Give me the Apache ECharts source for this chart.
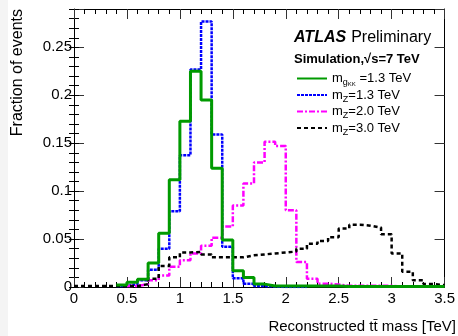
<!DOCTYPE html>
<html>
<head>
<meta charset="utf-8">
<script src="https://cdn.jsdelivr.net/npm/echarts@6/dist/echarts.min.js"></script>
<style>
  html, body { margin: 0; padding: 0; background: #fff; }
  #chart { width: 458px; height: 336px; }
</style>
</head>
<body>
<div id="chart"></div>
<script>
// Bin edges of the reconstructed ttbar mass histograms [TeV], 0.1 TeV bins
const binEdges = [0.0, 0.1, 0.2, 0.3, 0.4, 0.5, 0.6, 0.7, 0.8, 0.9,
                  1.0, 1.1, 1.2, 1.3, 1.4, 1.5, 1.6, 1.7, 1.8, 1.9,
                  2.0, 2.1, 2.2, 2.3, 2.4, 2.5, 2.6, 2.7, 2.8, 2.9,
                  3.0, 3.1, 3.2, 3.3, 3.4, 3.5];

// Fraction of events per bin (null = bin not drawn)
const gKK13 = [null, null, null, null, 0.002, 0.005, 0.008, 0.025, 0.056, 0.112,
               0.173, 0.225, 0.195, 0.124, 0.049, 0.017, 0.010, 0.003, 0.001, 0.001,
               0.001, 0.001, 0.001, 0.001, 0.001, 0.0005, 0.0005, 0.0005, 0.0005, 0.0005,
               0.0005, 0.0005, 0.0005, 0.0005, 0.0005];
const zPrime13 = [null, null, null, null, 0.001, 0.003, 0.007, 0.018, 0.040, 0.079,
                  0.1375, 0.227, 0.277, 0.159, 0.042, 0.009, 0.0035, 0.001, 0.0005, 0,
                  0, 0, null, null, null, null, null, null, null, null,
                  null, null, null, null, null];
const zPrime20 = [null, null, null, null, null, 0.001, 0.003, 0.007, 0.012, 0.021,
                  0.028, 0.035, 0.043, 0.0515, 0.063, 0.085, 0.108, 0.130, 0.1515, 0.147,
                  0.080, 0.026, 0.0086, 0.0035, 0.0026, 0.0013, 0.0013, 0.0013, 0.0013, 0.0013,
                  0.0005, null, null, null, null];
const zPrime30 = [0.001, 0.001, 0.001, 0.001, 0.001, 0.001, 0.003, 0.0086, 0.022, 0.031,
                  0.036, 0.0365, 0.034, 0.031, 0.031, 0.031, 0.033, 0.034, 0.035, 0.036,
                  0.037, 0.040, 0.045, 0.048, 0.052, 0.061, 0.065, 0.064, 0.062, 0.055,
                  0.035, 0.016, 0.007, 0.003, 0.002];

const xTickLabels = ['0', '0.5', '1', '1.5', '2', '2.5', '3', '3.5'];
const yTickLabels = ['0', '0.05', '0.1', '0.15', '0.2', '0.25'];

const seriesNames = ['gKK 1.3 TeV', "Z' 1.3 TeV", "Z' 2.0 TeV", "Z' 3.0 TeV"];
const legendTexts = [
  '{m|m}{s|g}{ss|KK}{v| =1.3 TeV}',
  '{m|m}{s|Z}{v|=1.3 TeV}',
  '{m|m}{s|Z}{v|=2.0 TeV}',
  '{m|m}{s|Z}{v|=3.0 TeV}'
];

const FONT = 'Liberation Sans, Arial, Helvetica, sans-serif';

// Turn per-bin values into step points: one point per lower edge, plus the closing edge
function histPoints(values) {
  let a = 0;
  while (values[a] === null) a++;
  let b = values.length - 1;
  while (values[b] === null) b--;
  const pts = [];
  for (let i = a; i <= b; i++) pts.push([binEdges[i], values[i]]);
  pts.push([binEdges[b + 1], values[b]]);
  return pts;
}

function labelFrom(list) {
  return function (v) {
    for (const s of list) {
      if (Math.abs(parseFloat(s) - v) < 1e-6) return s;
    }
    return '';
  };
}

const frameLine = { show: true, onZero: false, lineStyle: { color: '#000', width: 1 } };
const majorTick = { show: true, inside: true, length: 10, lineStyle: { color: '#333', width: 1 } };
const minorTick = { show: true, splitNumber: 5, length: 5, lineStyle: { color: '#000', width: 1 } };
const noSplit = { show: false };

const xBase = { type: 'value', min: 0, max: 3.5, interval: 0.5, splitLine: noSplit };
const yMajor = { type: 'value', min: 0, max: 0.29, interval: 0.05, splitLine: noSplit };
const yMinor = { type: 'value', min: 0, max: 0.29, interval: 0.01, splitLine: noSplit,
                 axisLine: { show: false }, axisLabel: { show: false },
                 axisTick: { show: true, inside: true, length: 5, lineStyle: { color: '#000' } } };

const styles = [
  { color: '#009a00', width: 3, type: 'solid', z: 6 },
  { color: '#0000ff', width: 2.5, type: [3, 1], z: 3 },
  { color: '#ff00ff', width: 2.5, type: [6, 2, 2, 2], z: 4 },
  { color: '#000000', width: 2.5, type: [4, 3], z: 5 }
];
const dataSets = [gKK13, zPrime13, zPrime20, zPrime30];

const chart = echarts.init(document.getElementById('chart'), null, { renderer: 'canvas' });

chart.setOption({
  animation: false,
  backgroundColor: '#ffffff',
  grid: { left: 74, right: 6, top: 9, bottom: 49, containLabel: false },
  title: [
    {
      text: '{a|ATLAS} {b|Preliminary}',
      left: 294, top: 29, padding: 0,
      textStyle: {
        fontWeight: 'normal',
        rich: {
          a: { fontFamily: FONT, fontSize: 16, fontWeight: 'bold', fontStyle: 'italic', color: '#000' },
          b: { fontFamily: FONT, fontSize: 16, fontWeight: 'normal', color: '#000' }
        }
      }
    },
    {
      text: 'Simulation,\u221As=7 TeV',
      left: 294, top: 53, padding: 0,
      textStyle: { fontFamily: FONT, fontSize: 13, fontWeight: 'bold', color: '#000' }
    }
  ],
  legend: {
    orient: 'vertical',
    left: 296, top: 72,
    padding: 0,
    itemWidth: 30, itemHeight: 12, itemGap: 1,
    data: seriesNames,
    itemStyle: { opacity: 0 },
    formatter: function (name) { return legendTexts[seriesNames.indexOf(name)]; },
    textStyle: {
      color: '#000',
      rich: {
        m: { fontFamily: FONT, fontSize: 13, lineHeight: 18, color: '#000' },
        s: { fontFamily: FONT, fontSize: 9, lineHeight: 9, verticalAlign: 'bottom', color: '#000' },
        ss: { fontFamily: FONT, fontSize: 6, lineHeight: 5, verticalAlign: 'bottom', color: '#000' },
        v: { fontFamily: FONT, fontSize: 13, lineHeight: 18, color: '#000' }
      }
    }
  },
  xAxis: [
    Object.assign({}, xBase, {
      position: 'bottom',
      axisLine: frameLine, axisTick: majorTick, minorTick: minorTick,
      axisLabel: { margin: 4, fontFamily: FONT, fontSize: 15, color: '#000',
                   formatter: labelFrom(xTickLabels) }
    }),
    Object.assign({}, xBase, {
      position: 'top',
      axisLine: frameLine, axisTick: majorTick, minorTick: minorTick,
      axisLabel: { show: false }
    })
  ],
  yAxis: [
    Object.assign({}, yMajor, {
      position: 'left',
      axisLine: frameLine, axisTick: majorTick,
      axisLabel: { margin: 2, fontFamily: FONT, fontSize: 15, color: '#000',
                   formatter: labelFrom(yTickLabels) }
    }),
    Object.assign({}, yMinor, { position: 'left' }),
    Object.assign({}, yMajor, {
      position: 'right',
      axisLine: frameLine, axisTick: majorTick, axisLabel: { show: false }
    }),
    Object.assign({}, yMinor, { position: 'right' })
  ],
  graphic: [
    {
      type: 'rect', left: 0, top: 0, z: -10, silent: true,
      shape: { width: 8, height: 336 },
      style: { fill: '#f4f4f4' }
    },
    {
      type: 'text', x: 18, y: 9, rotation: Math.PI / 2,
      style: { text: 'Fraction of events', fontFamily: FONT, fontSize: 16,
               fill: '#000', align: 'right', verticalAlign: 'middle' }
    },
    {
      type: 'text', x: 456, y: 327,
      style: { text: 'Reconstructed tt\u0304 mass [TeV]', fontFamily: FONT, fontSize: 15,
               fill: '#000', align: 'right', verticalAlign: 'middle' }
    }
  ],
  series: seriesNames.map(function (name, i) {
    return {
      name: name,
      type: 'line',
      xAxisIndex: 0,
      yAxisIndex: 0,
      step: 'end',
      showSymbol: false,
      symbol: 'none',
      z: styles[i].z,
      color: styles[i].color,
      lineStyle: { color: styles[i].color, width: styles[i].width, type: styles[i].type },
      data: histPoints(dataSets[i])
    };
  })
});
</script>
</body>
</html>
